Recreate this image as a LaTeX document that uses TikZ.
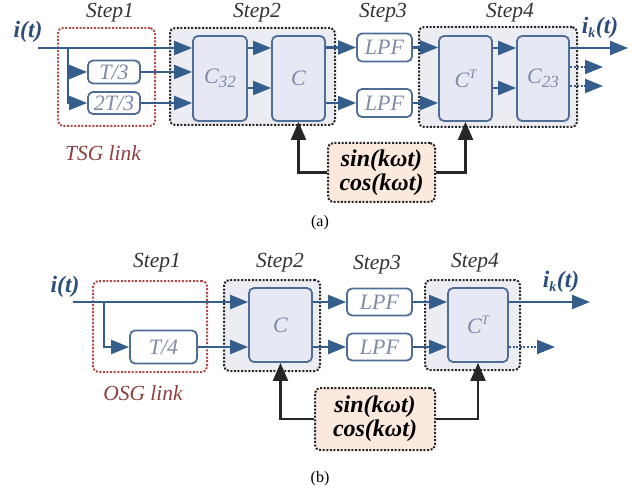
\documentclass[tikz,border=0pt]{standalone}
\usepackage{fontspec}
\setmainfont{Liberation Serif}
\usetikzlibrary{arrows.meta,calc}
\definecolor{lineblue}{HTML}{365E8C}
\definecolor{boxblue}{HTML}{4E6E98}
\definecolor{boxfill}{HTML}{E6E8F4}
\definecolor{stepfill}{HTML}{ECECF3}
\definecolor{labelgray}{HTML}{7F8AA6}
\definecolor{redline}{HTML}{B04848}
\definecolor{redtext}{HTML}{8E3E3E}
\definecolor{sigblue}{HTML}{2C4C7C}
\definecolor{orangefill}{HTML}{FBE9DD}
\begin{document}
\begin{tikzpicture}[x=1pt,y=-1pt,
  blk/.style={draw=boxblue, fill=boxfill, rounded corners=5pt, line width=1.8pt, inner sep=0pt,
    font=\fontsize{22}{22}\selectfont\itshape, text=labelgray},
  smallblk/.style={blk, fill=white},
  stepbox/.style={draw=black!85, fill=stepfill, rounded corners=5pt, line width=2pt, dash pattern=on 2pt off 1.6pt, inner sep=0pt},
  redbox/.style={draw=redline, rounded corners=5pt, line width=2pt, dash pattern=on 2pt off 1.6pt, inner sep=0pt},
  scbox/.style={draw=black!85, fill=orangefill, rounded corners=5pt, line width=2pt, dash pattern=on 2pt off 1.6pt, inner sep=0pt,
    align=center, font=\fontsize{24}{24}\selectfont\bfseries\itshape},
  steplbl/.style={font=\fontsize{21.5}{21.5}\selectfont\itshape, text=black!80, inner sep=0pt},
  linklbl/.style={font=\fontsize{21.5}{21.5}\selectfont\itshape, text=redtext, inner sep=0pt},
  siglbl/.style={font=\fontsize{23.5}{23.5}\selectfont\bfseries\itshape, text=sigblue, inner sep=0pt},
  caplbl/.style={font=\fontsize{16}{16}\selectfont, inner sep=0pt},
  flow/.style={draw=lineblue, line width=2.2pt, -{Triangle[length=18pt,width=14pt]}},
  flowdot/.style={draw=lineblue, line width=2.2pt, dash pattern=on 2pt off 1.6pt, -{Triangle[length=18pt,width=14pt,sep=0pt]}},
  fb/.style={draw=black!85, line width=2.2pt, -{Triangle[length=18pt,width=15pt]}}
]
\useasboundingbox (0,0) rectangle (642,494);

% ================= (a) =================
\node[redbox, minimum width=97pt, minimum height=98pt] (s1a) at (106.5,77) {};
\node[stepbox, minimum width=165pt, minimum height=97pt] (s2a) at (252.5,76.5) {};
\node[stepbox, minimum width=158pt, minimum height=100pt] (s4a) at (498,77) {};

\node[steplbl] (l1a) at (110,13) {Step1};
\node[steplbl] (l2a) at (257,13) {Step2};
\node[steplbl] (l3a) at (383,13) {Step3};
\node[steplbl] (l4a) at (510,13) {Step4};
\node[linklbl] (tsg) at (103,153) {TSG link};
\node[siglbl] (ita) at (28,32) {i(t)};
\node[siglbl] (ika) at (600,28) {i\textsubscript{\fontsize{14}{14}\selectfont k}(t)};

\node[smallblk, minimum width=52pt, minimum height=23pt] (t3a) at (114,72) {T/3};
\node[smallblk, minimum width=52pt, minimum height=22pt] (t23a) at (114,103) {2T/3};
\node[blk, minimum width=54pt, minimum height=85pt] (c32a) at (220,78.5) {C\raisebox{-0.35ex}{\fontsize{17}{17}\selectfont 32}};
\node[blk, minimum width=53pt, minimum height=85pt] (ca) at (298.5,78.5) {C};
\node[smallblk, minimum width=55pt, minimum height=28pt] (lp1a) at (384.5,47.5) {LPF};
\node[smallblk, minimum width=55pt, minimum height=28pt] (lp2a) at (384.5,103) {LPF};
\node[blk, minimum width=53pt, minimum height=85pt] (cta) at (465.5,78.5) {C\raisebox{0.9ex}{\fontsize{13}{13}\selectfont T}};
\node[blk, minimum width=52pt, minimum height=85pt] (c23a) at (543,78.5) {C\raisebox{-0.35ex}{\fontsize{17}{17}\selectfont 23}};
\node[scbox, minimum width=107pt, minimum height=59pt] (sca) at (381.5,172.5) {sin(kωt)\\cos(kωt)};
\node[caplbl] (capa) at (320,223) {(a)};

\coordinate (inA) at (38,48);
\coordinate (brA) at (68,48);
\coordinate (rA2) at (0,88);
\coordinate (outA) at (628,48);
\coordinate (d1A) at (603,67);
\coordinate (d2A) at (603,86);

\draw[flow] (inA) -- (inA -| c32a.west);
\draw[flow] (brA) |- (t3a.west);
\draw[flow] (brA) |- (t23a.west);
\draw[flow] (t3a.east) -- (t3a.east -| c32a.west);
\draw[flow] (t23a.east) -- (t23a.east -| c32a.west);
\draw[flow] (c32a.east |- inA) -- (ca.west |- inA);
\draw[flow] (c32a.east |- rA2) -- (ca.west |- rA2);
\draw[flow] (ca.east |- lp1a) -- (lp1a.west);
\draw[flow] (ca.east |- lp2a) -- (lp2a.west);
\draw[flow] (lp1a.east) -- (lp1a.east -| cta.west);
\draw[flow] (lp2a.east) -- (lp2a.east -| cta.west);
\draw[flow] (cta.east |- inA) -- (c23a.west |- inA);
\draw[flow] (cta.east |- rA2) -- (c23a.west |- rA2);
\draw[flow] (c23a.east |- outA) -- (outA);
\draw[flowdot] (c23a.east |- d1A) -- (d1A);
\draw[flowdot] (c23a.east |- d2A) -- (d2A);
\draw[fb] (sca.west) -| (ca.south);
\draw[fb] (sca.east) -| (cta.south);

% ================= (b) =================
\node[redbox, minimum width=114pt, minimum height=91pt] (s1b) at (150,326.5) {};
\node[stepbox, minimum width=96pt, minimum height=91pt] (s2b) at (272,325.5) {};
\node[stepbox, minimum width=95pt, minimum height=90pt] (s4b) at (472.5,325) {};

\node[steplbl] (l1b) at (157,263) {Step1};
\node[steplbl] (l2b) at (280,263) {Step2};
\node[steplbl] (l3b) at (377,265) {Step3};
\node[steplbl] (l4b) at (475,263) {Step4};
\node[linklbl] (osg) at (143,393) {OSG link};
\node[siglbl] (itb) at (65,287) {i(t)};
\node[siglbl] (ikb) at (561,282) {i\textsubscript{\fontsize{14}{14}\selectfont k}(t)};

\node[smallblk, minimum width=67pt, minimum height=33pt] (t4b) at (163.5,347) {T/4};
\node[blk, minimum width=63pt, minimum height=74pt] (cb) at (280.5,325) {C};
\node[smallblk, minimum width=65pt, minimum height=27pt] (lp1b) at (379.5,302) {LPF};
\node[smallblk, minimum width=65pt, minimum height=27pt] (lp2b) at (379.5,347) {LPF};
\node[blk, minimum width=60pt, minimum height=74pt] (ctb) at (478,325) {C\raisebox{0.9ex}{\fontsize{13}{13}\selectfont T}};
\node[scbox, minimum width=120pt, minimum height=62pt] (scb) at (375,419) {sin(kωt)\\cos(kωt)};
\node[caplbl] (capb) at (320,479) {(b)};

\coordinate (inB) at (73,302);
\coordinate (brB) at (104,302);
\coordinate (outB) at (590,302);
\coordinate (d1B) at (555,347);

\draw[flow] (inB) -- (inB -| cb.west);
\draw[flow] (brB) |- (t4b.west);
\draw[flow] (t4b.east) -- (t4b.east -| cb.west);
\draw[flow] (cb.east |- lp1b) -- (lp1b.west);
\draw[flow] (cb.east |- lp2b) -- (lp2b.west);
\draw[flow] (lp1b.east) -- (lp1b.east -| ctb.west);
\draw[flow] (lp2b.east) -- (lp2b.east -| ctb.west);
\draw[flow] (ctb.east |- outB) -- (outB);
\draw[flowdot] (ctb.east |- d1B) -- (d1B);
\draw[fb] (scb.west) -| (cb.south);
\draw[fb] (scb.east) -| (ctb.south);
\end{tikzpicture}
\end{document}
